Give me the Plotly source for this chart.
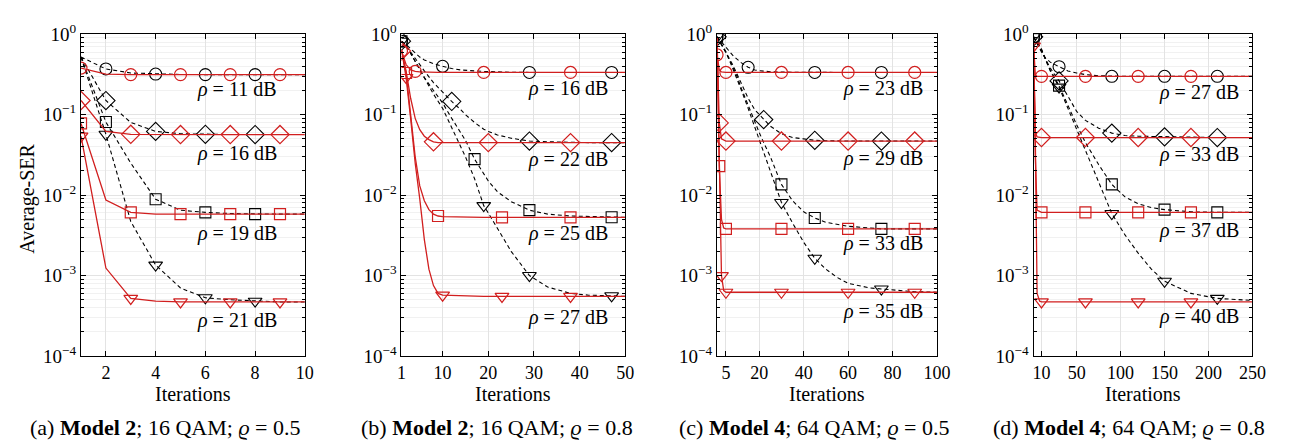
import plotly.graph_objects as go

# ---------------- data ----------------
# Panel (a): Model 2; 16 QAM; rho_corr = 0.5
A_X = [1, 2, 3, 4, 5, 6, 7, 8, 9, 10]
A_RED_CIRC = [0.38, 0.32, 0.315, 0.315, 0.315, 0.315, 0.315, 0.315, 0.315, 0.315]
A_RED_DIAM = [0.15, 0.062, 0.057, 0.0566, 0.0566, 0.0566, 0.0566, 0.0566, 0.0566, 0.0566]
A_RED_SQ = [0.078, 0.0087, 0.0061, 0.0058, 0.0058, 0.0058, 0.0058, 0.0058, 0.0058, 0.0058]
A_RED_TRI = [0.054, 0.00124, 0.00052, 0.00048, 0.00047, 0.00047, 0.00047, 0.00047, 0.00047, 0.00047]
A_BLK_CIRC = [0.52, 0.37, 0.33, 0.32, 0.316, 0.315, 0.315, 0.315, 0.315, 0.315]
A_BLK_DIAM = [0.52, 0.15, 0.08, 0.062, 0.058, 0.057, 0.0566, 0.0566, 0.0566, 0.0566]
A_BLK_SQ = [0.52, 0.081, 0.025, 0.0089, 0.0065, 0.0061, 0.0059, 0.0058, 0.0058, 0.0058]
A_BLK_TRI = [0.52, 0.057, 0.0047, 0.00135, 0.0007, 0.00053, 0.0005, 0.00048, 0.00047, 0.00047]
A_RED_MARK = [[1, 3, 5, 7, 9]] * 4
A_BLK_MARK = [[2, 4, 6, 8]] * 4

# Panel (b): Model 2; 16 QAM; rho_corr = 0.8
B_RX = [1, 2, 3, 4, 5, 6, 7, 8, 9, 10, 19, 20, 23, 38, 50]
B_RED_CIRC = [0.62, 0.42, 0.36, 0.345, 0.34, 0.337, 0.336, 0.335, 0.335, 0.335, 0.335, 0.335, 0.335, 0.335, 0.335]
B_RED_DIAM = [0.62, 0.35, 0.16, 0.09, 0.065, 0.054, 0.049, 0.046, 0.045, 0.045, 0.045, 0.045, 0.045, 0.045, 0.045]
B_RED_SQ = [0.65, 0.33, 0.1, 0.03, 0.013, 0.0085, 0.0066, 0.0058, 0.0055, 0.0054, 0.0053, 0.0053, 0.0053, 0.0053, 0.0053]
B_RED_TRI = [0.65, 0.29, 0.09, 0.025, 0.009, 0.0028, 0.0012, 0.00075, 0.0006, 0.00057, 0.00055, 0.00055, 0.00055, 0.00055, 0.00055]
B_BX = [1, 2, 3, 4, 5, 6, 8, 10, 12, 14, 15, 17, 19, 20, 22, 25, 29, 33, 38, 42, 47, 50]
B_BLK_CIRC = [0.82, 0.75, 0.66, 0.58, 0.52, 0.48, 0.43, 0.40, 0.375, 0.36, 0.355, 0.35, 0.345, 0.343, 0.34, 0.337, 0.335, 0.335, 0.335, 0.335, 0.335, 0.335]
B_BLK_DIAM = [0.82, 0.72, 0.6, 0.5, 0.42, 0.35, 0.25, 0.19, 0.146, 0.115, 0.1, 0.08, 0.066, 0.062, 0.056, 0.051, 0.047, 0.046, 0.045, 0.045, 0.045, 0.045]
B_BLK_SQ = [0.82, 0.72, 0.58, 0.46, 0.37, 0.29, 0.2, 0.14, 0.09, 0.06, 0.048, 0.028, 0.018, 0.015, 0.011, 0.0083, 0.0065, 0.0058, 0.0055, 0.0054, 0.0053, 0.0053]
B_BLK_TRI = [0.82, 0.72, 0.58, 0.46, 0.36, 0.28, 0.18, 0.12, 0.07, 0.04, 0.03, 0.016, 0.0074, 0.006, 0.0038, 0.002, 0.001, 0.00072, 0.0006, 0.00057, 0.00056, 0.00055]
B_RED_MARK = [[1, 4, 19, 38], [1, 8, 20, 38], [2, 9, 23, 38], [2, 10, 23, 38]]
B_BLK_MARK = [[1, 10, 29, 47], [1, 12, 29, 47], [1, 17, 29, 47], [1, 19, 29, 47]]

# Panel (c): Model 4; 64 QAM; rho_corr = 0.5
C_RX = [1, 2, 3, 4, 5, 30, 60, 90, 100]
C_RED_CIRC = [0.556, 0.36, 0.34, 0.336, 0.335, 0.335, 0.335, 0.335, 0.335]
C_RED_DIAM = [0.9, 0.079, 0.05, 0.048, 0.047, 0.047, 0.047, 0.047, 0.047]
C_RED_SQ = [0.9, 0.023, 0.005, 0.0039, 0.0038, 0.0038, 0.0038, 0.0038, 0.0038]
C_RED_TRI = [0.9, 0.03, 0.001, 0.00065, 0.00062, 0.00062, 0.00062, 0.00062, 0.00062]
C_BX = [1, 3, 5, 8, 10, 12, 15, 18, 20, 22, 25, 30, 35, 40, 45, 50, 55, 60, 70, 75, 80, 90, 100]
C_BLK_CIRC = [0.93, 0.8, 0.68, 0.55, 0.49, 0.44, 0.388, 0.36, 0.352, 0.347, 0.342, 0.338, 0.336, 0.335, 0.335, 0.335, 0.335, 0.335, 0.335, 0.335, 0.335, 0.335, 0.335]
C_BLK_DIAM = [0.93, 0.75, 0.6, 0.42, 0.32, 0.24, 0.16, 0.115, 0.1, 0.087, 0.072, 0.058, 0.052, 0.05, 0.048, 0.0475, 0.047, 0.047, 0.047, 0.047, 0.047, 0.047, 0.047]
C_BLK_SQ = [0.93, 0.75, 0.6, 0.4, 0.3, 0.21, 0.13, 0.08, 0.06, 0.045, 0.03, 0.0136, 0.0085, 0.0062, 0.0052, 0.0046, 0.0043, 0.0041, 0.0039, 0.0038, 0.0038, 0.0038, 0.0038]
C_BLK_TRI = [0.93, 0.75, 0.6, 0.38, 0.28, 0.2, 0.12, 0.07, 0.05, 0.035, 0.02, 0.0081, 0.0045, 0.0026, 0.00164, 0.0012, 0.00095, 0.0008, 0.0007, 0.00068, 0.00066, 0.00063, 0.00062]
C_RED_MARK = [[1, 5, 30, 60, 90], [2, 5, 30, 60, 90], [2, 5, 30, 60, 90], [3, 5, 30, 60, 90]]
C_BLK_MARK = [[1, 15, 45, 75], [1, 22, 45, 75], [1, 30, 45, 75], [1, 30, 45, 75]]

# Panel (d): Model 4; 64 QAM; rho_corr = 0.8
D_RX = [1, 3, 5, 8, 10, 60, 120, 180, 250]
D_RED_CIRC = [0.75, 0.31, 0.30, 0.30, 0.30, 0.30, 0.30, 0.30, 0.30]
D_RED_DIAM = [0.75, 0.06, 0.053, 0.052, 0.052, 0.052, 0.052, 0.052, 0.052]
D_RED_SQ = [0.75, 0.03, 0.0065, 0.0062, 0.0061, 0.0061, 0.0061, 0.0061, 0.0061]
D_RED_TRI = [0.71, 0.05, 0.0006, 0.00048, 0.00047, 0.00047, 0.00047, 0.00047, 0.00047]
D_BX = [1, 5, 10, 15, 20, 30, 40, 50, 60, 75, 90, 105, 120, 135, 150, 180, 210, 250]
D_BLK_CIRC = [0.93, 0.75, 0.6, 0.5, 0.45, 0.395, 0.35, 0.33, 0.315, 0.305, 0.30, 0.30, 0.30, 0.30, 0.30, 0.30, 0.30, 0.30]
D_BLK_DIAM = [0.93, 0.78, 0.62, 0.48, 0.38, 0.263, 0.17, 0.11, 0.085, 0.068, 0.059, 0.055, 0.054, 0.0535, 0.053, 0.0525, 0.052, 0.052]
D_BLK_SQ = [0.93, 0.8, 0.65, 0.48, 0.36, 0.23, 0.13, 0.075, 0.045, 0.024, 0.0136, 0.0095, 0.0078, 0.007, 0.0066, 0.0062, 0.0061, 0.0061]
D_BLK_TRI = [0.93, 0.8, 0.65, 0.47, 0.35, 0.22, 0.12, 0.065, 0.035, 0.014, 0.0059, 0.0032, 0.0019, 0.0012, 0.00085, 0.0006, 0.00052, 0.00049]
D_RED_MARK = [[10, 60, 120, 180], [10, 60, 120, 180], [10, 60, 120, 180], [1, 10, 60, 120, 180]]
D_BLK_MARK = [[1, 30, 90, 150, 210]] * 4

# axis ticks / labels
X_RANGES = [[1, 10], [1, 50], [1, 100], [1, 250]]
X_TICKS = [[2, 4, 6, 8, 10], [1, 10, 20, 30, 40, 50], [5, 20, 40, 60, 80, 100], [10, 50, 100, 150, 200, 250]]
Y_TICKS = [1e-4, 1e-3, 1e-2, 1e-1, 1]
Y_TICKTEXT = ["10<sup>−4</sup>", "10<sup>−3</sup>", "10<sup>−2</sup>", "10<sup>−1</sup>", "10<sup>0</sup>"]
RHO_LABELS = [[11, 16, 19, 21], [16, 22, 25, 27], [23, 29, 33, 35], [27, 33, 37, 40]]
CAPTIONS = [("a", "Model 2", "16 QAM", "0.5"), ("b", "Model 2", "16 QAM", "0.8"),
            ("c", "Model 4", "64 QAM", "0.5"), ("d", "Model 4", "64 QAM", "0.8")]

# ---------------- styling / layout ----------------
W, H = 1292, 447
FONT = "'Liberation Serif', 'Times New Roman', Times, serif"
RED = "#d11f1f"
SYMBOLS = ["circle-open", "diamond-open", "square-open", "triangle-down-open"]
MSIZE = [12, 14, 11, 12]
X_PIX = [(70, 297), (395, 622), (715, 938), (1036, 1258)]
Y_TOP, Y_BOT = 14, 354
LABEL_XFRAC = [0.885, 0.93, 0.947, 0.948]
LABEL_Y = [[-0.682, -1.482, -2.474, -3.561], [-0.679, -1.561, -2.474, -3.521],
           [-0.679, -1.549, -2.60, -3.451], [-0.729, -1.494, -2.435, -3.514]]
CAPTION_X = [155, 492, 813, 1133]

panels = [
    (A_X, [A_RED_CIRC, A_RED_DIAM, A_RED_SQ, A_RED_TRI], A_RED_MARK,
     A_X, [A_BLK_CIRC, A_BLK_DIAM, A_BLK_SQ, A_BLK_TRI], A_BLK_MARK),
    (B_RX, [B_RED_CIRC, B_RED_DIAM, B_RED_SQ, B_RED_TRI], B_RED_MARK,
     B_BX, [B_BLK_CIRC, B_BLK_DIAM, B_BLK_SQ, B_BLK_TRI], B_BLK_MARK),
    (C_RX, [C_RED_CIRC, C_RED_DIAM, C_RED_SQ, C_RED_TRI], C_RED_MARK,
     C_BX, [C_BLK_CIRC, C_BLK_DIAM, C_BLK_SQ, C_BLK_TRI], C_BLK_MARK),
    (D_RX, [D_RED_CIRC, D_RED_DIAM, D_RED_SQ, D_RED_TRI], D_RED_MARK,
     D_BX, [D_BLK_CIRC, D_BLK_DIAM, D_BLK_SQ, D_BLK_TRI], D_BLK_MARK),
]

fig = go.Figure()
layout = dict(width=W, height=H, margin=dict(l=0, r=0, t=0, b=0),
              paper_bgcolor="white", plot_bgcolor="white", showlegend=False,
              font=dict(family=FONT, color="black", size=19))
annotations = []

for i, (rx, rys, rmarks, bx, bys, bmarks) in enumerate(panels):
    n = "" if i == 0 else str(i + 1)
    xa, ya = "x" + n, "y" + n
    # black dashed (reference algorithm) first, red solid on top
    for k in range(4):
        fig.add_trace(go.Scatter(x=bx, y=bys[k], mode="lines", xaxis=xa, yaxis=ya,
                                 line=dict(color="black", width=1.1, dash="4px,3px")))
        lut = dict(zip(bx, bys[k]))
        fig.add_trace(go.Scatter(x=bmarks[k], y=[lut[v] for v in bmarks[k]], mode="markers",
                                 xaxis=xa, yaxis=ya,
                                 marker=dict(symbol=SYMBOLS[k], size=MSIZE[k], color="black",
                                             line=dict(width=1.1, color="black"))))
    for k in range(4):
        fig.add_trace(go.Scatter(x=rx, y=rys[k], mode="lines", xaxis=xa, yaxis=ya,
                                 line=dict(color=RED, width=1.3)))
        lut = dict(zip(rx, rys[k]))
        fig.add_trace(go.Scatter(x=rmarks[k], y=[lut[v] for v in rmarks[k]], mode="markers",
                                 xaxis=xa, yaxis=ya,
                                 marker=dict(symbol=SYMBOLS[k], size=MSIZE[k], color=RED,
                                             line=dict(width=1.2, color=RED))))

    x0, x1 = X_PIX[i]
    layout["xaxis" + n] = dict(
        domain=[x0 / W, x1 / W], anchor=ya, range=X_RANGES[i], tickvals=X_TICKS[i],
        showgrid=True, gridcolor="#e3e3e3", gridwidth=1, zeroline=False,
        showline=True, linecolor="black", linewidth=1, mirror="allticks",
        ticks="inside", ticklen=5, tickcolor="black", tickfont=dict(size=18, family=FONT))
    layout["yaxis" + n] = dict(
        domain=[1 - Y_BOT / H, 1 - Y_TOP / H], anchor=xa, type="log", range=[-4, 0],
        tickvals=Y_TICKS, ticktext=Y_TICKTEXT, showgrid=True, gridcolor="#e3e3e3",
        zeroline=False, showline=True, linecolor="black", linewidth=1, mirror="allticks",
        ticks="inside", ticklen=5, tickcolor="black", tickfont=dict(size=19, family=FONT),
        minor=dict(ticks="inside", ticklen=3, tickcolor="black", showgrid=True,
                   gridcolor="#f1f1f1", dtick="D1"))

    # rho labels
    for j, rho in enumerate(RHO_LABELS[i]):
        annotations.append(dict(text=f"<i>ρ</i> = {rho} dB", xref=xa + " domain", yref=ya,
                                x=LABEL_XFRAC[i], y=LABEL_Y[i][j], xanchor="right",
                                yanchor="middle", showarrow=False,
                                font=dict(size=20, family=FONT)))
    # x-axis title
    annotations.append(dict(text="Iterations", xref="paper", yref="paper",
                            x=(x0 + x1) / 2 / W, y=1 - 394 / H, xanchor="center",
                            yanchor="middle", showarrow=False, font=dict(size=20, family=FONT)))
    # caption
    tag, model, qam, val = CAPTIONS[i]
    annotations.append(dict(text=f"({tag}) <b>{model}</b>; {qam}; <i>ϱ</i> = {val}",
                            xref="paper", yref="paper", x=CAPTION_X[i] / W, y=1 - 430 / H,
                            xanchor="center", yanchor="middle", showarrow=False,
                            font=dict(size=22, family=FONT)))

annotations.append(dict(text="Average-SER", xref="paper", yref="paper", x=16 / W,
                        y=1 - 188 / H, textangle=-90, xanchor="center", yanchor="middle",
                        showarrow=False, font=dict(size=20, family=FONT)))
layout["annotations"] = annotations
fig.update_layout(**layout)
fig.write_html("out.html")
